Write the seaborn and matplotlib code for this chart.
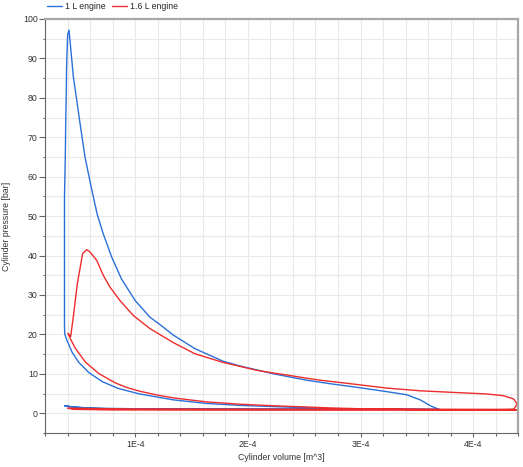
import numpy as np
import pandas as pd
import seaborn as sns
import matplotlib.pyplot as plt
from matplotlib.lines import Line2D
from matplotlib.ticker import MultipleLocator, FuncFormatter

# --- data (volume in 1E-4 m^3, pressure in bar) ---
engines = ['1 L engine', '1.6 L engine']
colors = ['#2a70d8', '#ee2c2c']

# 1 L engine: intake, compression, combustion, expansion, exhaust
v_1l = [0.375, 0.45, 0.60, 0.85, 1.20, 2.00, 3.00, 3.70,
        3.40, 3.00, 2.73, 2.52, 2.23, 1.93, 1.63, 1.34, 1.04, 0.85, 0.71, 0.59, 0.50, 0.44, 0.395, 0.375,
        0.373, 0.373, 0.373, 0.380, 0.384, 0.389, 0.392, 0.401, 0.413,
        0.430, 0.451, 0.511, 0.555, 0.614, 0.664, 0.717, 0.792, 0.880, 1.00, 1.13, 1.22, 1.34, 1.53, 1.78,
        1.93, 2.23, 2.52, 2.73, 2.94, 3.23, 3.41, 3.53, 3.62, 3.70,
        3.00, 2.00, 1.00, 0.60, 0.45, 0.375]
p_1l = [1.9, 1.6, 1.3, 1.07, 1.0, 0.95, 0.95, 0.95,
        1.0, 1.1, 1.2, 1.4, 1.7, 2.0, 2.5, 3.4, 4.9, 6.3, 8.0, 10.3, 12.9, 15.5, 18.5, 20.1,
        22.0, 40.0, 55.0, 64.7, 74.0, 81.6, 88.4, 96.0, 97.2,
        92.0, 85.5, 73.5, 65.0, 56.8, 50.4, 45.5, 39.6, 34.0, 28.6, 24.4, 22.5, 19.8, 16.4, 13.2,
        12.0, 10.0, 8.4, 7.5, 6.7, 5.5, 4.7, 3.4, 1.9, 0.95,
        1.1, 1.1, 1.15, 1.3, 1.6, 1.9]

# 1.6 L engine
v_16l = [0.404, 0.45, 0.80, 1.50, 2.50, 3.50, 4.39,
         4.00, 3.50, 3.00, 2.73, 2.52, 2.23, 1.93, 1.63, 1.34, 1.20, 1.04, 0.93, 0.824, 0.676, 0.558,
         0.469, 0.425, 0.404,
         0.428, 0.451, 0.487, 0.534, 0.570,
         0.599, 0.659, 0.717, 0.777, 0.865, 0.984, 1.13, 1.34, 1.53, 1.78, 2.08, 2.23, 2.37, 2.52,
         2.64, 2.73, 2.94, 3.23, 3.53, 3.82, 4.12, 4.27, 4.36, 4.39,
         4.36, 4.24, 3.00, 2.00, 1.00, 0.60, 0.404]
p_16l = [1.3, 1.0, 0.85, 0.82, 0.8, 0.8, 0.8,
         0.85, 0.95, 1.15, 1.35, 1.6, 1.9, 2.3, 2.9, 3.9, 4.6, 5.6, 6.5, 7.7, 10.1, 13.0,
         16.5, 18.9, 20.3,
         19.5, 24.4, 32.9, 40.5, 41.5,
         40.9, 38.8, 35.0, 32.0, 28.6, 24.8, 21.5, 17.9, 15.1, 12.9, 10.9, 10.2, 9.6, 8.9,
         8.4, 8.1, 7.4, 6.4, 5.7, 5.3, 4.9, 4.45, 3.6, 2.3,
         1.07, 1.0, 1.05, 1.05, 1.1, 1.2, 1.3]

frames = []
for name, v, p in zip(engines, [v_1l, v_16l], [p_1l, p_16l]):
    frames.append(pd.DataFrame({'volume': np.array(v) * 1e-4, 'pressure': p, 'engine': name}))
df = pd.concat(frames, ignore_index=True)

# --- figure ---
sns.set_theme(style='white')
plt.rcParams['font.family'] = ['Liberation Sans', 'DejaVu Sans']
fs = 6.3

fig = plt.figure(figsize=(5.23, 4.67), dpi=100)
ax = fig.add_axes([45 / 523, 34 / 467, 473.3 / 523, 414 / 467])

sns.lineplot(data=df, x='volume', y='pressure', hue='engine', palette=colors,
             sort=False, estimator=None, linewidth=1.0, ax=ax, legend=False)

ax.set_xlim(0.2e-4, 4.4e-4)
ax.set_ylim(-5, 100)

ax.xaxis.set_major_locator(MultipleLocator(1e-4))
ax.xaxis.set_minor_locator(MultipleLocator(0.2e-4))
ax.xaxis.set_major_formatter(FuncFormatter(lambda x, pos: f'{int(round(x / 1e-4))}E-4'))
ax.yaxis.set_major_locator(MultipleLocator(10))
ax.yaxis.set_minor_locator(MultipleLocator(5))

ax.grid(True, which='both', color='#e9e9e9', linewidth=0.8)
ax.set_axisbelow(True)

for side in ['top', 'right']:
    ax.spines[side].set_color('#a8a8a8')
    ax.spines[side].set_linewidth(1.6)
for side in ['left', 'bottom']:
    ax.spines[side].set_color('#666666')
    ax.spines[side].set_linewidth(0.8)

ax.tick_params(axis='both', which='both', direction='out', color='#666666', width=0.8,
               labelsize=fs, labelcolor='#333333')
ax.tick_params(axis='y', which='major', length=4.0, pad=1.2)
ax.tick_params(axis='y', which='minor', length=1.8)
ax.tick_params(axis='x', which='major', length=3.0, pad=2.0)
ax.tick_params(axis='x', which='minor', length=2.2)
ax.tick_params(left=True, bottom=True, which='both')

ax.set_xlabel('Cylinder volume [m^3]', fontsize=fs, color='#333333')
ax.set_ylabel('Cylinder pressure [bar]', fontsize=fs, color='#333333')
ax.xaxis.set_label_coords(0.5, (433 - 453) / 414)
ax.yaxis.set_label_coords((11.5 - 45) / 473.3, 0.5)

handles = [Line2D([0], [0], color=c, lw=1.0) for c in colors]
ax.legend(handles, engines, loc='center left', bbox_to_anchor=(0.0, 1 + (19 - 6.7) / 414),
          ncol=2, frameon=False, fontsize=fs, handlelength=1.7, handletextpad=0.35,
          columnspacing=0.8, borderpad=0.2, borderaxespad=0.0)

fig.savefig('out.png', dpi=100)
